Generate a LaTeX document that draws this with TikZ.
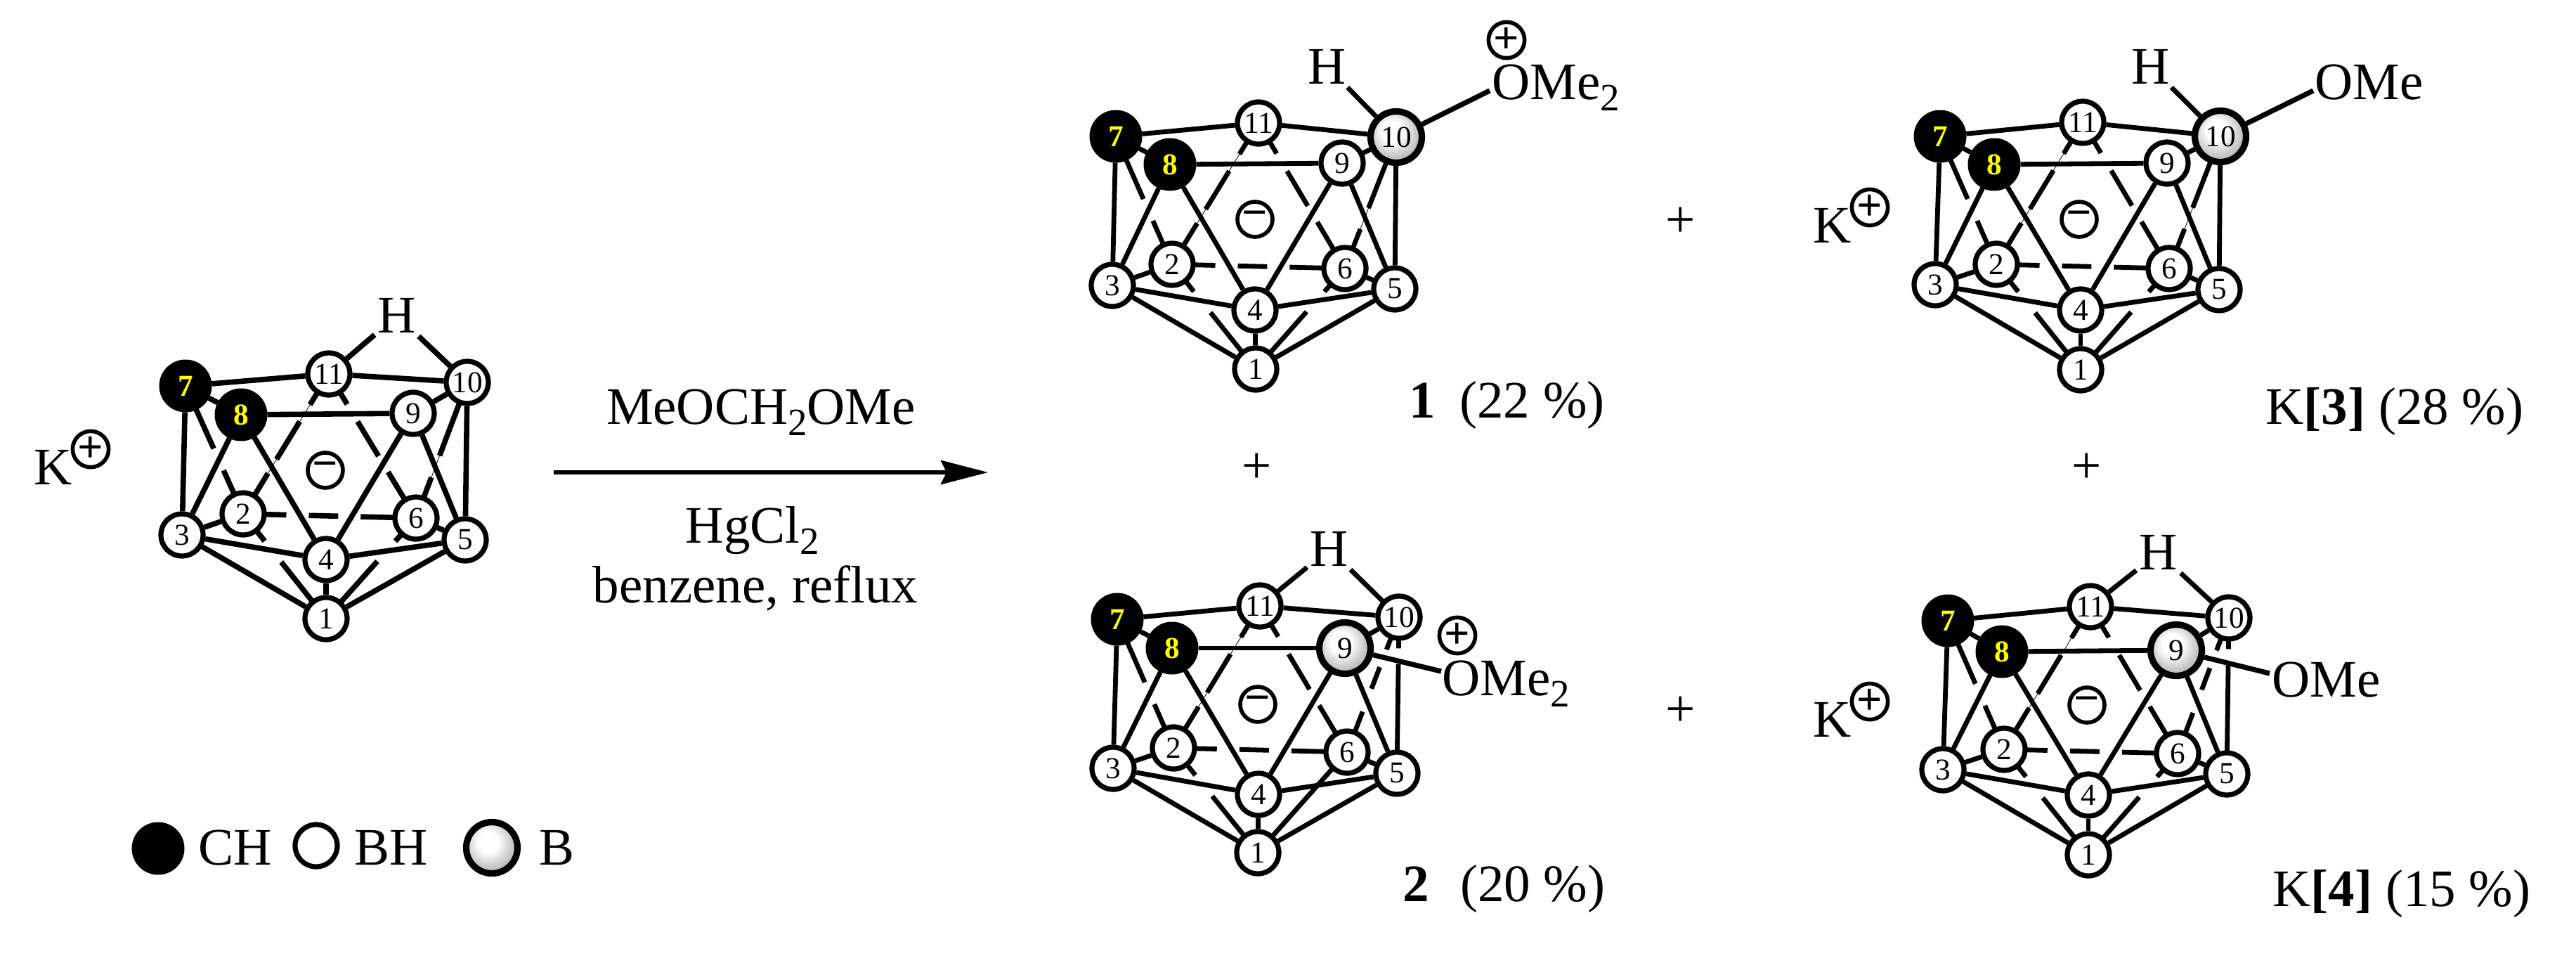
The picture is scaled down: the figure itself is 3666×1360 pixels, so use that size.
\documentclass[tikz,border=0pt]{standalone}
\usepackage{fontspec}
\setmainfont{Liberation Serif}
\usetikzlibrary{calc,arrows.meta}
\pgfdeclarelayer{bg}
\pgfsetlayers{bg,main}
\pgfdeclareradialshading{atomball}{\pgfpoint{-5bp}{7bp}}{color(0bp)=(white);color(10bp)=(white);color(26bp)=(black!28);color(38bp)=(black!52);color(50bp)=(black!65)}
\newcommand{\bigtxt}{\fontsize{18.75}{22}\selectfont}
\newcommand{\sbt}[1]{\raisebox{-4pt}{\fontsize{13.75}{14}\selectfont #1}}
\newcommand{\frag}[4]{\draw ($(#1.center)!#3!(#2.center)$) -- ($(#1.center)!#4!(#2.center)$);}
\newcommand{\hair}[2]{\draw[line width=.2pt] (#1.center) -- (#2.center);}
% front edges and the broken back edges common to all cages
\newcommand{\cageedges}[1]{%
  \draw (#17) -- (#111); \draw (#111) -- (#110); \draw (#17) -- (#18);
  \draw (#18) -- (#19); \draw (#19) -- (#110); \draw (#17) -- (#13);
  \draw (#18) -- (#13); \draw (#18) -- (#14); \draw (#19) -- (#14);
  \draw (#19) -- (#15); \draw (#13) -- (#12); \draw (#16) -- (#15);
  \draw (#13) -- (#14); \draw (#14) -- (#15); \draw (#13) -- (#11);
  \draw (#14) -- (#11); \draw (#15) -- (#11);
  \frag{#17}{#12}{0}{.49}\frag{#17}{#12}{.66}{1}
  \hair{#111}{#12}
  \frag{#111}{#12}{0}{.22}\frag{#111}{#12}{.34}{.61}\frag{#111}{#12}{.71}{1}
  \frag{#111}{#16}{0}{.21}\frag{#111}{#16}{.33}{.57}\frag{#111}{#16}{.68}{1}
  \frag{#12}{#16}{0}{.25}\frag{#12}{#16}{.38}{.55}\frag{#12}{#16}{.68}{1}
  \frag{#12}{#11}{0}{.26}\frag{#12}{#11}{.46}{1}
  \frag{#16}{#11}{.43}{1}
}
% edges that differ when the substituent sits on atom 10 or on atom 9
\newcommand{\tenedges}[1]{%
  \draw (#110) -- (#15);
  \hair{#110}{#16}
  \frag{#110}{#16}{0}{.54}\frag{#110}{#16}{.70}{1}
  \frag{#16}{#11}{0}{.23}
}
\newcommand{\nineedges}[1]{%
  \frag{#110}{#15}{0}{.2}\frag{#110}{#15}{.3}{1}
  \frag{#110}{#16}{0}{.24}\frag{#110}{#16}{.37}{.53}\frag{#110}{#16}{.70}{1}
}
\tikzset{
  every node/.style={inner sep=0pt,font=\bigtxt},
  atom/.style={circle,inner sep=0pt,minimum size=15pt,font=\fontsize{10.8}{11}\selectfont},
  bh/.style={atom,draw=black,fill=white,line width=1.8pt},
  ch/.style={atom,fill=black,draw=black,line width=.5pt,minimum size=18.25pt,text={rgb,1:red,1;green,1;blue,0},font=\fontsize{10.8}{11}\selectfont\bfseries},
  bb/.style={atom,draw=black,line width=2.3pt,minimum size=18.25pt,shading=atomball},
  chg/.style={circle,draw=black,line width=1.4pt,minimum size=12.5pt,inner sep=0pt,font=\fontsize{16}{16}\selectfont\bfseries},
  txt/.style={anchor=base west},
  bond/.style={line width=1.8pt},
  cagea/.style={line width=1.9pt},
  cageb/.style={line width=1.7pt},
}
\begin{document}
\begin{tikzpicture}[x=0.25pt,y=-0.25pt]
\useasboundingbox (0,0) rectangle (3666,1360);

% starting anion
\foreach \n/\x/\y/\s in {7/264/549/ch,8/343/590/ch,11/468/532/bh,10/665/544/bh,9/588/588/bh,2/346/731/bh,6/592/737/bh,3/259/761/bh,5/662/768/bh,4/464/796/bh,1/464/880/bh}
  \node[\s] (A\n) at (\x,\y) {\n};
\node (AH) at (565,449) [inner sep=1pt] {H};
\node[chg] (Amin) at (463,669) {−};
\node[txt] (AK) at (48,689) {K};
\node[chg] (Apl) at (129,639) {+};
\begin{pgfonlayer}{bg}
\begin{scope}[cagea]
\cageedges{A}\tenedges{A}
\draw (A11) -- (AH); \draw (A10) -- (AH);
\end{scope}
\end{pgfonlayer}

% product 1
\foreach \n/\x/\y/\s in {7/1588/194/ch,8/1665/234/ch,11/1791/175/bh,10/1987/195/bb,9/1910/232/bh,2/1668/376/bh,6/1914/382/bh,3/1583/406/bh,5/1985/411/bh,4/1786/441/bh,1/1787/525/bh}
  \node[\s] (P\n) at (\x,\y) {\n};
\node (PH) at (1889,95) [inner sep=1pt] {H};
\node[chg] (Pmin) at (1786,312) {−};
\node[txt] (PO) at (2123,141) {OMe\sbt{2}};
\node[chg] (Ppl) at (2144,57) {+};
\coordinate (Pe) at (2120,129);
\node[txt] (Plab) at (2005,594) {\textbf{1}\hspace{8.5pt}(22 \%)};
\begin{pgfonlayer}{bg}
\begin{scope}[cageb]
\cageedges{P}\tenedges{P}
\draw (P10) -- (PH); \draw[bond] (P10) -- (Pe);
\end{scope}
\end{pgfonlayer}

% product 2
\foreach \n/\x/\y/\s in {7/1590/881/ch,8/1668/922/ch,11/1793/862/bh,10/1991/878/bh,9/1914/922/bb,2/1670/1064/bh,6/1917/1070/bh,3/1584/1093/bh,5/1988/1100/bh,4/1791/1130/bh,1/1790/1213/bh}
  \node[\s] (Q\n) at (\x,\y) {\n};
\node (QH) at (1892,781) [inner sep=1pt] {H};
\node[chg] (Qmin) at (1790,1002) {−};
\node[txt] (QO) at (2052,989) {OMe\sbt{2}};
\node[chg] (Qpl) at (2074,904) {+};
\coordinate (Qe) at (2051,955);
\node[txt] (Qlab) at (1996,1282) {\textbf{2}\hspace{11pt}(20 \%)};
\begin{pgfonlayer}{bg}
\begin{scope}[cageb]
\cageedges{Q}\nineedges{Q}
\frag{Q6}{Q1}{.08}{.43}
\draw (Q11) -- (QH); \draw (Q10) -- (QH); \draw[bond] (Q9) -- (Qe);
\end{scope}
\end{pgfonlayer}

% product K[3]
\foreach \n/\x/\y/\s in {7/2761/194/ch,8/2838/234/ch,11/2964/174/bh,10/3160/194/bb,9/3084/232/bh,2/2841/376/bh,6/3087/382/bh,3/2754/405/bh,5/3158/412/bh,4/2961/441/bh,1/2961/526/bh}
  \node[\s] (R\n) at (\x,\y) {\n};
\node (RH) at (3061,95) [inner sep=1pt] {H};
\node[chg] (Rmin) at (2959,312) {−};
\node[txt] (RO) at (3294,141) {OMe};
\coordinate (Re) at (3292,129);
\node[txt] (RK) at (2580,345) {K};
\node[chg] (Rpl) at (2661,295) {+};
\node[txt] (Rlab) at (3224,603) {K\textbf{[3]} (28 \%)};
\begin{pgfonlayer}{bg}
\begin{scope}[cageb]
\cageedges{R}\tenedges{R}
\draw (R10) -- (RH); \draw[bond] (R10) -- (Re);
\end{scope}
\end{pgfonlayer}

% product K[4]
\foreach \n/\x/\y/\s in {7/2772/883/ch,8/2849/927/ch,11/2975/863/bh,10/3172/879/bh,9/3097/925/bb,2/2852/1066/bh,6/3099/1072/bh,3/2765/1095/bh,5/3169/1101/bh,4/2972/1131/bh,1/2972/1216/bh}
  \node[\s] (S\n) at (\x,\y) {\n};
\node (SH) at (3072,786) [inner sep=1pt] {H};
\node[chg] (Smin) at (2970,1003) {−};
\node[txt] (SO) at (3233,991) {OMe};
\coordinate (Se) at (3230,958);
\node[txt] (SK) at (2580,1048) {K};
\node[chg] (Spl) at (2661,998) {+};
\node[txt] (Slab) at (3234,1289) {K\textbf{[4]} (15 \%)};
\begin{pgfonlayer}{bg}
\begin{scope}[cageb]
\cageedges{S}\nineedges{S}
\frag{S6}{S1}{0}{.23}
\draw (S11) -- (SH); \draw (S10) -- (SH); \draw[bond] (S9) -- (Se);
\end{scope}
\end{pgfonlayer}

% reaction arrow and conditions
\coordinate (as) at (788,672);
\coordinate (ae) at (1406,672);
\draw[line width=1.5pt,-{Stealth[length=16.75pt,width=8.5pt,inset=2pt]}] (as) -- (ae);
\node[anchor=base] (t1) at (1083,603) {MeOCH\sbt{2}OMe};
\node[anchor=base] (t2) at (1071,772) {HgCl\sbt{2}};
\node[anchor=base] (t3) at (1075,857) {benzene, reflux};

% plus signs
\node (p1) at (2392,316) {+};
\node (p2) at (1789,666) {+};
\node (p3) at (2970,666) {+};
\node (p4) at (2392,1012) {+};

% legend
\node[ch] (L1) at (225,1207) {};
\node[txt] (L1t) at (282,1230) {CH};
\node[bh] (L2) at (450,1203) {};
\node[txt] (L2t) at (504,1230) {BH};
\node[bb] (L3) at (700,1206) {};
\node[txt] (L3t) at (767,1230) {B};
\end{tikzpicture}
\end{document}
